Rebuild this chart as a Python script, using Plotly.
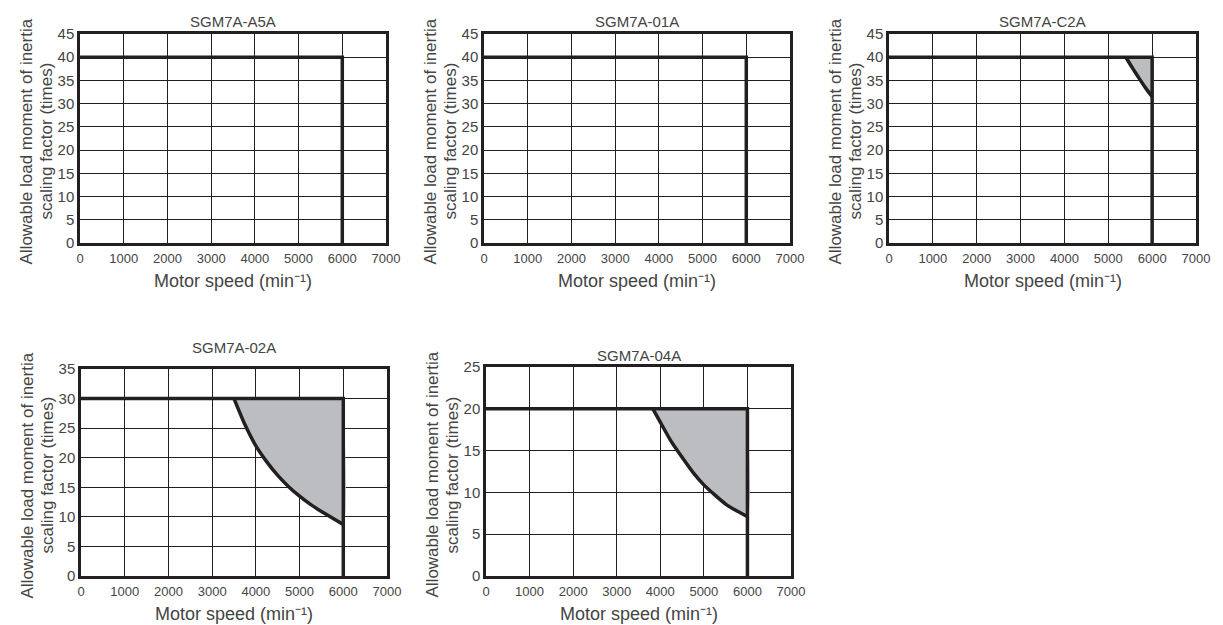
import plotly.graph_objects as go

# ---------------- data ----------------
models = ["SGM7A-A5A", "SGM7A-01A", "SGM7A-C2A", "SGM7A-02A", "SGM7A-04A"]
rated_factor = [40, 40, 40, 30, 20]          # flat allowable factor (times)
y_max = [45, 45, 45, 35, 25]                  # y-axis upper limit
max_speed = 6000                              # min^-1
x_max = 7000

# derating curves (speed, factor); None = no derating
curve_c2a_x = [5400, 5550, 5700, 5850, 6000]
curve_c2a_y = [40, 37.7, 35.5, 33.4, 31.5]
curve_02a_x = [3500, 3750, 4000, 4250, 4500, 4750, 5000, 5250, 5500, 5750, 6000]
curve_02a_y = [30, 25.6, 22.0, 19.3, 17.0, 15.1, 13.5, 12.1, 10.9, 9.8, 8.7]
curve_04a_x = [3830, 4000, 4250, 4500, 4750, 5000, 5250, 5500, 5750, 6000]
curve_04a_y = [20, 18.4, 16.1, 14.2, 12.4, 10.9, 9.7, 8.6, 7.8, 7.1]
curves = [None, None, (curve_c2a_x, curve_c2a_y), (curve_02a_x, curve_02a_y), (curve_04a_x, curve_04a_y)]

x_ticks = [0, 1000, 2000, 3000, 4000, 5000, 6000, 7000]

x_title = "Motor speed (min⁻¹)"
y_title_lines = ["Allowable load moment of inertia", "scaling factor (times)"]

# ---------------- layout geometry (page pixels) ----------------
W, H = 1223, 625
PAGE_OFF = 8          # default body margin of the html page
boxes = [  # x0, x1, ytop, ybottom
    (80, 386, 34, 243),
    (484, 790, 34, 243),
    (889, 1196, 34, 243),
    (81, 387, 369, 576),
    (486, 791, 367, 576),
]
title_y = [21, 21, 21, 347, 355]


def px(x):
    return (x - PAGE_OFF) / W


def py(y):
    return 1 - (y - PAGE_OFF) / H


INK = "#231F20"
TXT = "#444444"
FILL = "#BCBDC0"
FONT = "Liberation Sans, Arial, sans-serif"

fig = go.Figure()
layout = {}
annotations = []

for i, (name, rf, ym, crv, box, ty) in enumerate(zip(models, rated_factor, y_max, curves, boxes, title_y)):
    n = i + 1
    xa = "x" if n == 1 else f"x{n}"
    ya = "y" if n == 1 else f"y{n}"
    xkey = "xaxis" if n == 1 else f"xaxis{n}"
    ykey = "yaxis" if n == 1 else f"yaxis{n}"
    x0, x1, yt, yb = box

    if crv is not None:
        cx, cy = crv
        fig.add_trace(go.Scatter(
            x=list(cx) + [max_speed], y=list(cy) + [rf],
            xaxis=xa, yaxis=ya, mode="lines", fill="toself",
            fillcolor=FILL, line=dict(width=0, shape="spline", smoothing=0.6),
            hoverinfo="skip", showlegend=False))
        fig.add_trace(go.Scatter(
            x=cx, y=cy, xaxis=xa, yaxis=ya, mode="lines",
            line=dict(color=INK, width=3.5, shape="spline", smoothing=0.6),
            showlegend=False))

    fig.add_trace(go.Scatter(
        x=[0, max_speed, max_speed], y=[rf, rf, 0],
        xaxis=xa, yaxis=ya, mode="lines",
        line=dict(color=INK, width=3.5), showlegend=False))

    layout[xkey] = dict(
        domain=[px(x0), px(x1)], anchor=ya, range=[0, x_max],
        tickvals=x_ticks, ticktext=[str(v) for v in x_ticks],
        showgrid=True, gridcolor=INK, gridwidth=1,
        showline=True, linecolor=INK, linewidth=2.5, mirror=True,
        ticks="", zeroline=False, fixedrange=True, automargin=False,
        ticklabelstandoff=2,
        tickfont=dict(family=FONT, size=13, color=TXT),
    )
    layout[ykey] = dict(
        domain=[py(yb), py(yt)], anchor=xa, range=[0, ym],
        tickvals=list(range(0, ym + 1, 5)),
        showgrid=True, gridcolor=INK, gridwidth=1,
        showline=True, linecolor=INK, linewidth=2.5, mirror=True,
        ticks="", zeroline=False, fixedrange=True, automargin=False,
        tickfont=dict(family=FONT, size=15, color=TXT),
    )

    # chart title
    annotations.append(dict(
        text=name, xref="paper", yref="paper",
        x=px((x0 + x1) / 2), y=py(ty), xanchor="center", yanchor="middle",
        showarrow=False, font=dict(family=FONT, size=15, color=TXT)))
    # x-axis title
    annotations.append(dict(
        text=x_title, xref="paper", yref="paper",
        x=px((x0 + x1) / 2), y=py(yb + 38), xanchor="center", yanchor="middle",
        showarrow=False, font=dict(family=FONT, size=18, color=TXT)))
    # y-axis title (two lines)
    yc = (yt + yb) / 2 + 3
    for off, line in zip([54, 34], y_title_lines):
        annotations.append(dict(
            text=line, xref="paper", yref="paper", textangle=-90,
            x=px(x0 - off), y=py(yc), xanchor="center", yanchor="middle",
            showarrow=False, font=dict(family=FONT, size=17, color=TXT)))

fig.update_layout(
    width=W, height=H,
    margin=dict(l=0, r=0, t=0, b=0, autoexpand=False),
    paper_bgcolor="white", plot_bgcolor="white",
    showlegend=False, annotations=annotations,
    **layout,
)

fig.write_html("out.html")
